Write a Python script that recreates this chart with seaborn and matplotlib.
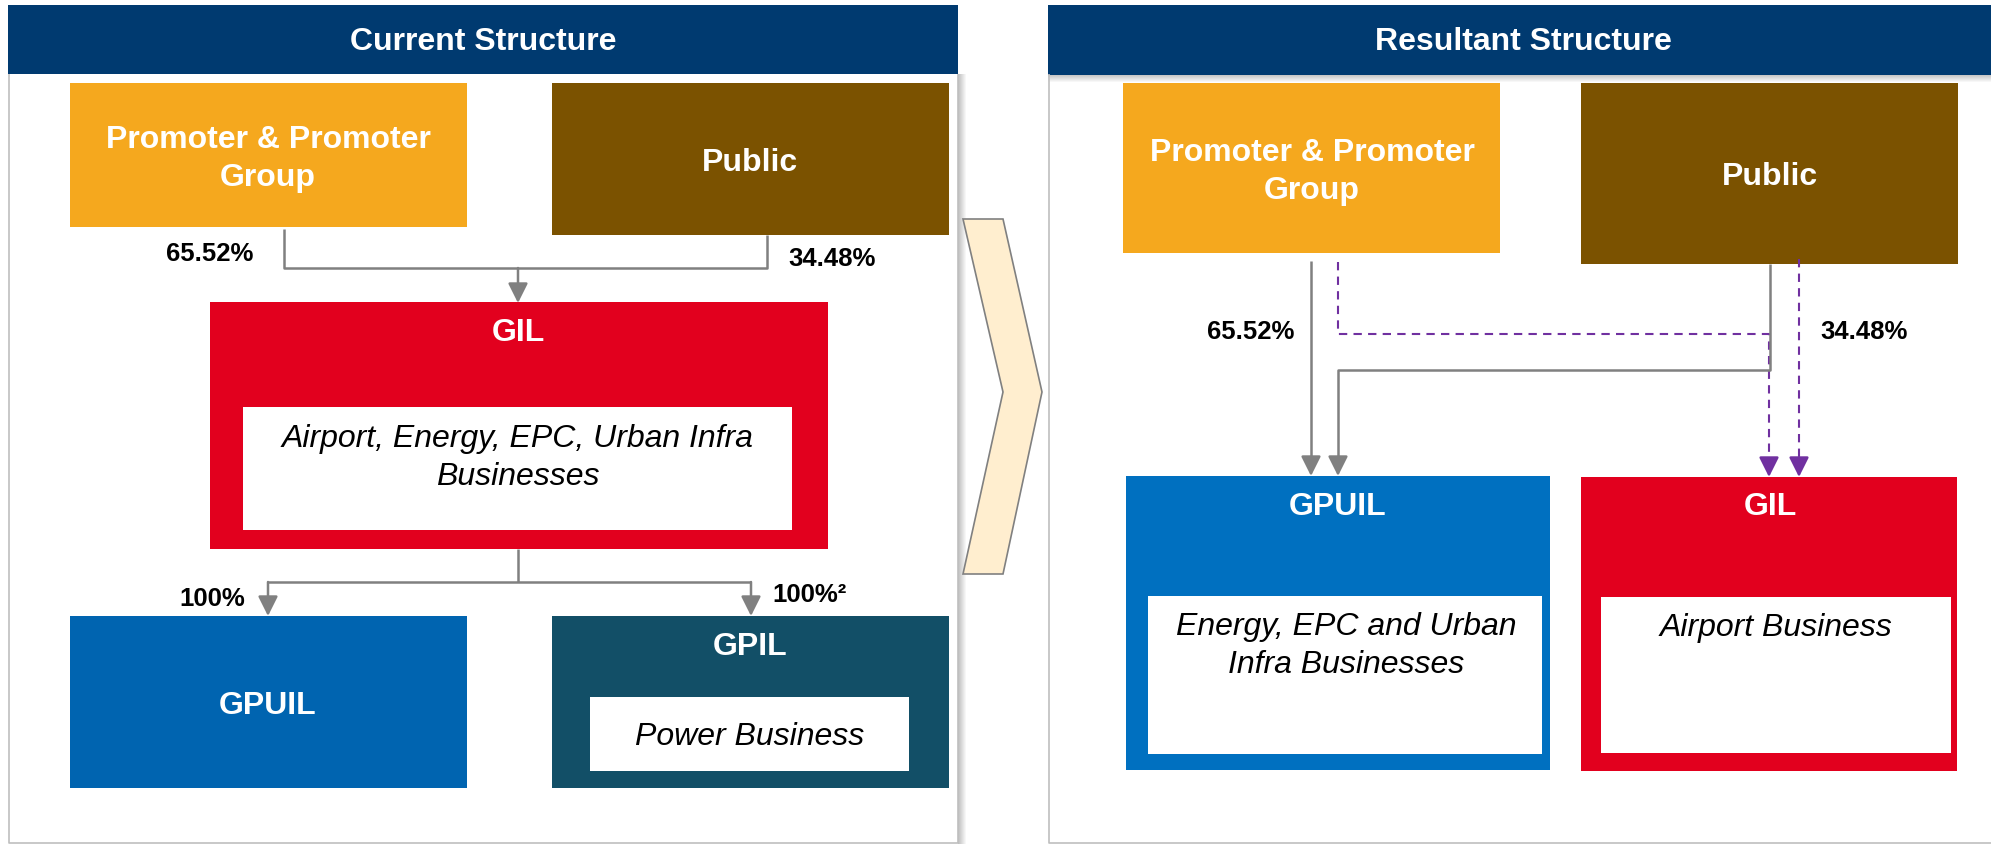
import matplotlib
matplotlib.use("Agg")
import matplotlib.pyplot as plt
import matplotlib.patches as mpatches
import seaborn as sns

# panel titles
panel_titles = ["Current Structure", "Resultant Structure"]

# shareholders and their stakes
holders = ["Promoter & Promoter\nGroup", "Public"]
holder_stakes = ["65.52%", "34.48%"]

# current structure: GIL and its subsidiaries
parent_name = "GIL"
parent_business = "Airport, Energy, EPC, Urban Infra\nBusinesses"
subsidiaries = ["GPUIL", "GPIL"]
subsidiary_business = [None, "Power Business"]
subsidiary_stakes = ["100%", "100%²"]

# resultant structure
new_entities = ["GPUIL", "GIL"]
new_business = ["Energy, EPC and Urban\nInfra Businesses", "Airport Business"]

navy = "#003A70"
orange = "#F5A81E"
brown = "#7B5200"
red = "#E2001E"
blue_l = "#0064B0"
blue_r = "#0070C0"
teal = "#124F67"
gray = "#808080"
purple = "#7030A0"
cream = "#FFEECF"

sns.set_theme(style="white")
plt.rcParams["font.family"] = ["Liberation Sans", "DejaVu Sans"]

fig = plt.figure(figsize=(19.91, 8.45), dpi=100)
ax = fig.add_axes([0, 0, 1, 1])
ax.set_xlim(0, 1991)
ax.set_ylim(845, 0)
ax.axis("off")


def box(x0, y0, x1, y1, color, ec="none", lw=0, z=2):
    ax.add_patch(mpatches.Rectangle((x0, y0), x1 - x0, y1 - y0, facecolor=color,
                                    edgecolor=ec, linewidth=lw, zorder=z))


def label(x, y, s, color="white", size=23, weight="bold", style="normal"):
    ax.text(x, y, s, color=color, fontsize=size, fontweight=weight, fontstyle=style,
            ha="center", va="center", linespacing=1.37, zorder=5)


def path(xs, ys, color=gray, lw=1.8, ls="-"):
    ax.plot(xs, ys, color=color, lw=lw, ls=ls, solid_capstyle="butt", zorder=3)


def head(x, y0, y1, color=gray):
    ax.annotate("", xy=(x, y1), xytext=(x, y0),
                arrowprops=dict(arrowstyle="-|>,head_length=0.6,head_width=0.3",
                                color=color, lw=1.8, shrinkA=0, shrinkB=0,
                                mutation_scale=20), zorder=4)


# ---- panels ----
# left panel frame + shadow
for i in range(8):
    box(958 + i, 75, 959 + i, 845, "#000000", z=0)
    ax.patches[-1].set_alpha(0.25 * (1 - i / 8))
path([9, 9, 958, 958], [75, 844, 844, 75], color="#BFBFBF", lw=1.2)
box(8, 6, 958, 75, navy, z=2)
label(483, 42, panel_titles[0])

# right panel frame + shadow under header
for i in range(7):
    box(1048, 76 + i, 1991, 77 + i, "#000000", z=0)
    ax.patches[-1].set_alpha(0.22 * (1 - i / 7))
path([1049, 1049, 1991], [75, 844, 844], color="#BFBFBF", lw=1.2)
box(1048, 6, 1995, 76, navy, z=2)
label(1523, 42, panel_titles[1])

# chevron between the panels
chevron = mpatches.Polygon([(963, 220), (1003, 220), (1042, 393), (1003, 575),
                            (963, 575), (1003, 393)], closed=True,
                           facecolor=cream, edgecolor=gray, lw=1.2, zorder=2)
ax.add_patch(chevron)

# ---- current structure ----
box(70, 84, 467, 228, orange)
label(268, 159, holders[0])
box(552, 84, 949, 236, brown)
label(750, 163, holders[1])

path([284, 284, 767, 767], [230, 269, 269, 236])
head(518, 269, 304)
label(210, 254, holder_stakes[0], color="black", size=18.5)
label(832, 259, holder_stakes[1], color="black", size=18.5)

box(210, 303, 828, 550, red)
label(518, 333, parent_name)
box(243, 408, 792, 531, "white")
label(518, 458, parent_business, color="black", weight="normal", style="italic")

path([518, 518], [550, 583])
path([268, 751], [583, 583])
head(268, 583, 617)
head(751, 583, 617)
label(212, 599, subsidiary_stakes[0], color="black", size=18.5)
label(810, 595, subsidiary_stakes[1], color="black", size=18.5)

box(70, 617, 467, 789, blue_l)
label(268, 706, subsidiaries[0])
box(552, 617, 949, 789, teal)
label(750, 647, subsidiaries[1])
box(590, 698, 909, 772, "white")
label(750, 737, subsidiary_business[1], color="black", weight="normal", style="italic")

# ---- resultant structure ----
box(1123, 84, 1500, 254, orange)
label(1312, 172, holders[0])
box(1581, 84, 1958, 265, brown)
label(1770, 177, holders[1])

# purple dashed links into GIL
path([1338, 1338, 1769, 1769], [263, 335, 335, 462], color=purple, lw=1.5, ls=(0, (4, 3)))
head(1769, 460, 478, color=purple)
path([1799, 1799], [260, 462], color=purple, lw=1.5, ls=(0, (4, 3)))
head(1799, 460, 478, color=purple)

# gray links into GPUIL
path([1311, 1311], [262, 462])
head(1311, 460, 477)
path([1770, 1770, 1338, 1338], [265, 371, 371, 462])
head(1338, 460, 477)

label(1251, 332, holder_stakes[0], color="black", size=18.5)
label(1864, 332, holder_stakes[1], color="black", size=18.5)

box(1126, 477, 1550, 771, blue_r)
label(1338, 507, new_entities[0])
box(1148, 597, 1542, 755, "white")
label(1346, 646, new_business[0], color="black", weight="normal", style="italic")

box(1581, 478, 1957, 772, red)
label(1770, 507, new_entities[1])
box(1601, 598, 1951, 754, "white")
label(1776, 628, new_business[1], color="black", weight="normal", style="italic")

fig.savefig("out.png", dpi=100, facecolor="white")
